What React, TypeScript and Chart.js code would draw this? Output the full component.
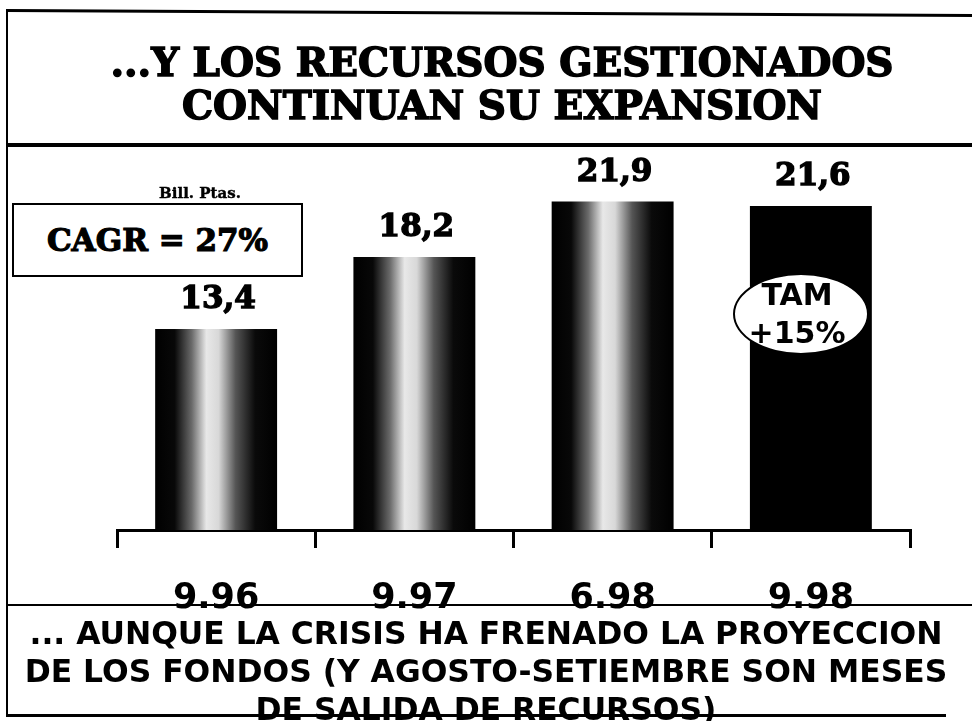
import React, { useEffect, useRef } from "react";
import { Chart, registerables } from "chart.js";

Chart.register(...registerables);

const TITLE_LINES = ["...Y LOS RECURSOS GESTIONADOS", "CONTINUAN SU EXPANSION"];
const PERIODS = ["9.96", "9.97", "6.98", "9.98"];
const VALUES = [13.4, 18.2, 21.9, 21.6];
const VALUE_LABELS = ["13,4", "18,2", "21,9", "21,6"];
const UNIT_LABEL = "Bill. Ptas.";
const CAGR_LABEL = "CAGR = 27%";
const TAM_LINES = ["TAM", "+15%"];
const FOOTER_LINES = [
  "... AUNQUE LA CRISIS HA FRENADO LA PROYECCION",
  "DE LOS FONDOS (Y AGOSTO-SETIEMBRE SON MESES",
  "DE SALIDA DE RECURSOS)",
];
const SOLID_INDEX = 3;

const valueLabelPlugin = {
  id: "valueLabels",
  afterDatasetsDraw(chart: any) {
    const ctx = chart.ctx;
    const meta = chart.getDatasetMeta(0);
    ctx.save();
    ctx.fillStyle = "#000";
    ctx.strokeStyle = "#000";
    ctx.lineWidth = 1.4;
    ctx.font = 'bold 31px "DejaVu Serif", serif';
    ctx.textAlign = "center";
    ctx.textBaseline = "middle";
    meta.data.forEach((el: any, i: number) => {
      ctx.fillText(VALUE_LABELS[i], el.x + 2, el.y - 29);
      ctx.strokeText(VALUE_LABELS[i], el.x + 2, el.y - 29);
    });
    ctx.restore();
  },
};

function barFill(c: any) {
  if (c.dataIndex === SOLID_INDEX) return "#000";
  const chart = c.chart;
  const xs = chart.scales && chart.scales.x;
  if (!xs || !chart.chartArea) return "#000";
  const cx = xs.getPixelForValue(c.dataIndex);
  const w = (xs.width / PERIODS.length) * 0.615;
  const g = chart.ctx.createLinearGradient(cx - w / 2, 0, cx + w / 2, 0);
  g.addColorStop(0, "#000");
  g.addColorStop(0.16, "#080808");
  g.addColorStop(0.3, "#6a6a6a");
  g.addColorStop(0.42, "#e8e8e8");
  g.addColorStop(0.52, "#d8d8d8");
  g.addColorStop(0.66, "#555");
  g.addColorStop(0.82, "#0a0a0a");
  g.addColorStop(1, "#000");
  return g;
}

export default function App() {
  const canvasRef = useRef<HTMLCanvasElement>(null);

  useEffect(() => {
    document.body.style.margin = "0";
    const chart = new Chart(canvasRef.current as HTMLCanvasElement, {
      type: "bar",
      data: {
        labels: PERIODS,
        datasets: [
          {
            data: VALUES,
            backgroundColor: barFill as any,
            borderWidth: 0,
            barPercentage: 0.615,
            categoryPercentage: 1,
          },
        ],
      },
      options: {
        responsive: false,
        animation: false,
        devicePixelRatio: 1,
        layout: { padding: { left: 117, right: 62, top: 155, bottom: 0 } },
        plugins: { legend: { display: false }, tooltip: { enabled: false } },
        scales: {
          y: { display: false, min: 0, max: 25 },
          x: {
            afterFit: (scale: any) => {
              scale.height = 90;
            },
            grid: {
              display: true,
              drawOnChartArea: false,
              drawTicks: true,
              tickLength: 18,
              lineWidth: 3,
              color: "#000",
              offset: true,
            },
            border: { display: true, color: "#000", width: 3 },
            ticks: {
              color: "#000",
              font: { family: '"DejaVu Sans", sans-serif', size: 35, weight: "bold" },
              padding: 30,
              maxRotation: 0,
              autoSkip: false,
            },
          },
        },
      },
      plugins: [valueLabelPlugin],
    });
    return () => chart.destroy();
  }, []);

  const line = (s: React.CSSProperties): React.CSSProperties => ({
    position: "absolute",
    background: "#000",
    ...s,
  });

  return (
    <div
      style={{
        position: "relative",
        width: 972,
        height: 721,
        overflow: "hidden",
        background: "#fff",
      }}
    >
      <canvas
        ref={canvasRef}
        width={972}
        height={620}
        style={{ position: "absolute", left: 0, top: 0, width: 972, height: 620 }}
      />
      {/* frame lines */}
      <div style={line({ left: 6, top: 9, width: 966, height: 3, transform: "rotate(0.3deg)", transformOrigin: "left" })} />
      <div style={line({ left: 6, top: 143, width: 966, height: 4 })} />
      <div style={line({ left: 6, top: 9, width: 2, height: 708 })} />
      <div style={line({ left: 6, top: 604, width: 966, height: 2 })} />
      <div style={line({ left: 6, top: 714, width: 940, height: 3 })} />

      {/* title */}
      <div
        style={{
          position: "absolute",
          left: 6,
          top: 41,
          width: 992,
          textAlign: "center",
          fontFamily: '"DejaVu Serif", serif',
          fontWeight: "bold",
          fontSize: 39,
          lineHeight: "43px",
          color: "#000",
          whiteSpace: "nowrap",
          WebkitTextStroke: "1.5px #000",
        }}
      >
        {TITLE_LINES.map((t) => (
          <div key={t}>{t}</div>
        ))}
      </div>

      {/* unit label */}
      <div
        style={{
          position: "absolute",
          left: 140,
          top: 183,
          width: 120,
          textAlign: "center",
          fontFamily: '"DejaVu Serif", serif',
          fontWeight: "bold",
          fontSize: 15,
          lineHeight: "20px",
          color: "#000",
          whiteSpace: "nowrap",
          WebkitTextStroke: "0.4px #000",
        }}
      >
        {UNIT_LABEL}
      </div>

      {/* CAGR box */}
      <div
        style={{
          position: "absolute",
          left: 12,
          top: 203,
          width: 287,
          height: 70,
          border: "2px solid #000",
          background: "#fff",
          display: "flex",
          alignItems: "center",
          justifyContent: "center",
          fontFamily: '"DejaVu Serif", serif',
          fontWeight: "bold",
          fontSize: 31,
          color: "#000",
          whiteSpace: "nowrap",
          WebkitTextStroke: "1.2px #000",
        }}
      >
        {CAGR_LABEL}
      </div>

      {/* TAM ellipse */}
      <div
        style={{
          position: "absolute",
          left: 733,
          top: 273,
          width: 136,
          height: 82,
          borderRadius: "50%",
          border: "2px solid #000",
          background: "#fff",
          display: "flex",
          flexDirection: "column",
          alignItems: "center",
          justifyContent: "center",
          fontFamily: '"DejaVu Sans", sans-serif',
          fontWeight: "bold",
          fontSize: 30,
          lineHeight: "38px",
          color: "#000",
          paddingRight: 8,
          boxSizing: "border-box",
        }}
      >
        {TAM_LINES.map((t) => (
          <div key={t}>{t}</div>
        ))}
      </div>

      {/* footer */}
      <div
        style={{
          position: "absolute",
          left: 0,
          top: 614,
          width: 972,
          textAlign: "center",
          fontFamily: '"DejaVu Sans", sans-serif',
          fontWeight: "bold",
          fontSize: 32,
          lineHeight: "38px",
          color: "#000",
          whiteSpace: "nowrap",
        }}
      >
        {FOOTER_LINES.map((t) => (
          <div key={t} style={{ transform: "scaleX(0.98)" }}>
            {t}
          </div>
        ))}
      </div>
    </div>
  );
}
